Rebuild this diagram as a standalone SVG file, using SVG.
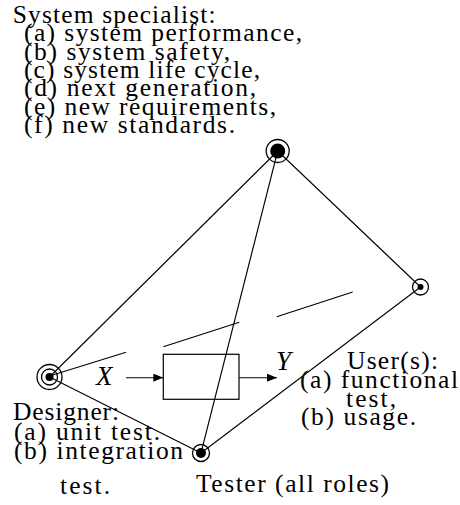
<svg xmlns="http://www.w3.org/2000/svg" width="460" height="505" viewBox="0 0 460 505">
<style>
  text { font-family: "Liberation Serif", "DejaVu Serif", serif; font-size: 25.5px; fill: #000; }
  .it { font-style: italic; font-size: 27px; }
  .edge { stroke: #000; stroke-width: 1.1; fill: none; }
  .ring { stroke: #000; stroke-width: 1.3; fill: none; }
  .dot { fill: #000; }
</style>
<defs>
  <marker id="arr" viewBox="0 0 10 8" refX="10" refY="4" markerWidth="10" markerHeight="8" markerUnits="userSpaceOnUse" orient="auto">
    <path d="M0,0 L10,4 L0,8 Z" fill="#000"/>
  </marker>
</defs>
<rect width="460" height="505" fill="#fff"/>
<g id="connectors">
  <line class="edge" x1="277.7" y1="151" x2="49.5" y2="377"/>
  <line class="edge" x1="277.7" y1="151" x2="420.5" y2="287"/>
  <line class="edge" x1="277.7" y1="151" x2="201" y2="453"/>
  <line class="edge" x1="49.5" y1="377" x2="201" y2="453"/>
  <line class="edge" x1="201" y1="453" x2="420.5" y2="287"/>
  <line class="edge" x1="49.5" y1="376" x2="126" y2="352.3"/>
  <line class="edge" x1="163.3" y1="346.7" x2="239.3" y2="322.3"/>
  <line class="edge" x1="276.7" y1="316.7" x2="352.7" y2="292"/>
  <line class="edge" x1="126" y1="377.7" x2="163.3" y2="377.7" marker-end="url(#arr)"/>
  <line class="edge" x1="239" y1="377.7" x2="277" y2="377.7" marker-end="url(#arr)"/>
</g>
<g id="system">
  <rect x="163.3" y="354.3" width="75.7" height="45" fill="none" stroke="#000" stroke-width="1.2"/>
  <text class="it" x="96" y="385">X</text>
  <text class="it" x="276" y="370">Y</text>
</g>
<g id="specialist">
  <circle class="ring" cx="277.7" cy="151" r="11.5"/>
  <circle class="dot" cx="277.7" cy="151" r="7.5"/>
  <text x="12.7" y="23" textLength="203" lengthAdjust="spacing">System specialist:</text>
  <text x="24" y="41.3" textLength="278" lengthAdjust="spacing">(a) system performance,</text>
  <text x="24" y="59.6" textLength="206" lengthAdjust="spacing">(b) system safety,</text>
  <text x="24" y="77.9" textLength="236" lengthAdjust="spacing">(c) system life cycle,</text>
  <text x="24" y="96.2" textLength="232" lengthAdjust="spacing">(d) next generation,</text>
  <text x="24" y="114.5" textLength="252" lengthAdjust="spacing">(e) new requirements,</text>
  <text x="24" y="132.8" textLength="211" lengthAdjust="spacing">(f) new standards.</text>
</g>
<g id="user">
  <circle class="ring" cx="420.5" cy="287" r="8"/>
  <circle class="dot" cx="420.5" cy="287" r="3"/>
  <text x="347" y="369" textLength="91" lengthAdjust="spacing">User(s):</text>
  <text x="300" y="388" textLength="158" lengthAdjust="spacing">(a) functional</text>
  <text x="346" y="407" textLength="50" lengthAdjust="spacing">test,</text>
  <text x="301" y="425" textLength="115" lengthAdjust="spacing">(b) usage.</text>
</g>
<g id="designer">
  <circle class="ring" cx="49.5" cy="377" r="12.5"/>
  <circle class="ring" cx="49.5" cy="377" r="8"/>
  <circle class="dot" cx="49.5" cy="377" r="4"/>
  <text x="13" y="420" textLength="106" lengthAdjust="spacing">Designer:</text>
  <text x="14" y="439.5" textLength="146" lengthAdjust="spacing">(a) unit test.</text>
  <text x="14" y="459" textLength="169" lengthAdjust="spacing">(b) integration</text>
  <text x="60" y="494" textLength="50" lengthAdjust="spacing">test.</text>
</g>
<g id="tester">
  <circle class="ring" cx="201" cy="453" r="8.5"/>
  <circle class="dot" cx="201" cy="453" r="5"/>
  <text x="196" y="492" textLength="193" lengthAdjust="spacing">Tester (all roles)</text>
</g>
</svg>
